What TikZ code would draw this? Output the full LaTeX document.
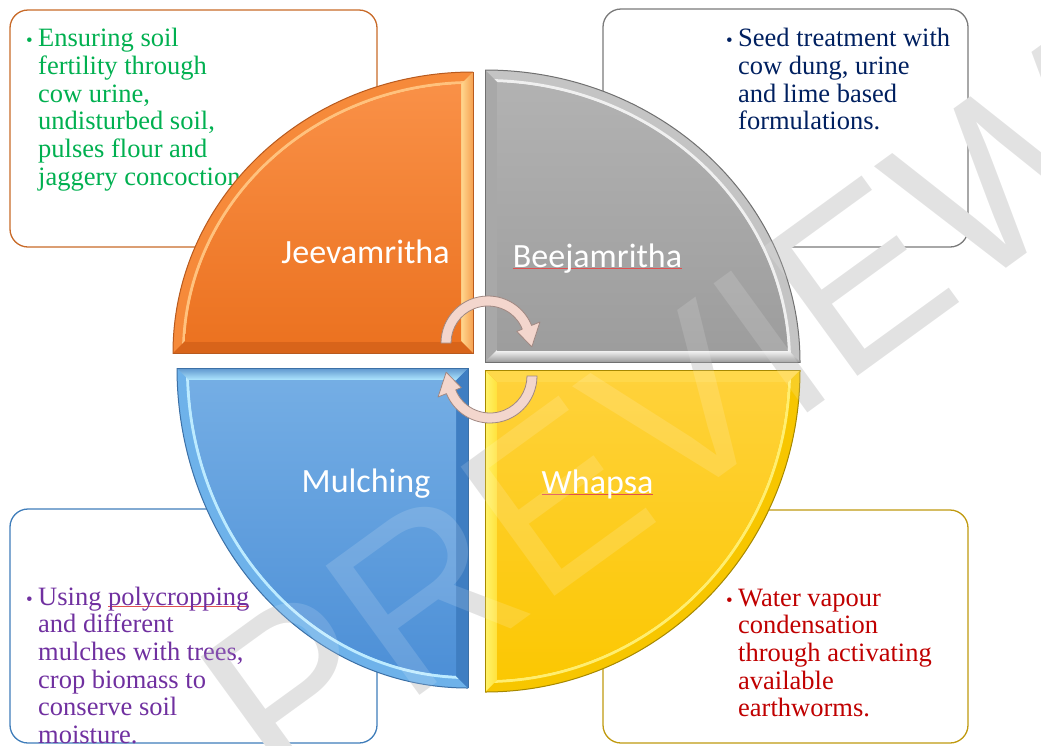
\documentclass[tikz,border=0pt]{standalone}
\usepackage{fontspec}
\setmainfont{Liberation Serif}
\newfontfamily\labelfont{Carlito}
\newfontfamily\markfont{Liberation Sans}

% text colours
\definecolor{txtgreen}{HTML}{00B050}
\definecolor{txtnavy}{HTML}{002060}
\definecolor{txtpurple}{HTML}{7030A0}
\definecolor{txtred}{HTML}{C00000}
\definecolor{spellred}{HTML}{E05050}
% box borders
\definecolor{brdOrange}{HTML}{C86A28}
\definecolor{brdGray}{HTML}{7A7A7A}
\definecolor{brdBlue}{HTML}{3F7DBA}
\definecolor{brdGold}{HTML}{C09A10}
% orange quadrant
\definecolor{orFaceTop}{HTML}{FA9249}
\definecolor{orFaceBot}{HTML}{EB711F}
\definecolor{orArc}{HTML}{F68A3A}
\definecolor{orHl}{HTML}{FFC27E}
\definecolor{orVL}{HTML}{FFD890}
\definecolor{orVR}{HTML}{F6A050}
\definecolor{orH}{HTML}{D8641A}
\definecolor{orEdge}{HTML}{B85A1E}
% gray quadrant
\definecolor{grFaceTop}{HTML}{B3B3B3}
\definecolor{grFaceBot}{HTML}{9C9C9C}
\definecolor{grArc}{HTML}{C4C4C4}
\definecolor{grHl}{HTML}{F0F0F0}
\definecolor{grV}{HTML}{A8A8A8}
\definecolor{grHTop}{HTML}{F8F8F8}
\definecolor{grHBot}{HTML}{9A9A9A}
\definecolor{grEdge}{HTML}{707070}
% blue quadrant
\definecolor{blFaceTop}{HTML}{76AFE5}
\definecolor{blFaceBot}{HTML}{4B8ED6}
\definecolor{blArc}{HTML}{6EB2EA}
\definecolor{blHl}{HTML}{BDEBFF}
\definecolor{blV}{HTML}{3F7EC2}
\definecolor{blHTop}{HTML}{5E96CE}
\definecolor{blHBot}{HTML}{B0E8FF}
\definecolor{blEdge}{HTML}{3C70A6}
% yellow quadrant
\definecolor{yeFaceTop}{HTML}{FFD23C}
\definecolor{yeFaceBot}{HTML}{FBC700}
\definecolor{yeArc}{HTML}{F7C600}
\definecolor{yeHl}{HTML}{FFEE70}
\definecolor{yeVL}{HTML}{FFF36B}
\definecolor{yeVR}{HTML}{FFE23C}
\definecolor{yeH}{HTML}{FFD84A}
\definecolor{yeEdge}{HTML}{A68800}
% cycle arrows
\definecolor{arrFill}{HTML}{F3D6CD}
\definecolor{arrLine}{HTML}{A08882}

% word with a thin red spell-check underline
\newsavebox\spellbox
\newcommand\spellmark[1]{\sbox\spellbox{#1}\rlap{\textcolor{spellred}{\rule[-1.6pt]{\wd\spellbox}{0.8pt}}}\usebox\spellbox}

% bevel width of the quadrant tiles
\def\bev{12}

% #1,#2 right-angle corner, #3,#4 radii, #5,#6 direction signs, #7 style prefix
\newcommand\quadrant[7]{%
\begin{scope}
  \clip (#1,#2) rectangle ({#1+#5*(#3+4)},{#2+#6*(#4+4)});
  \path[#7-arc] (#1,#2) ellipse[x radius=#3, y radius=#4];
  \draw[#7-hl] (#1,#2) ellipse[x radius={#3-\bev+1.5}, y radius={#4-\bev+1.5}];
  \path[#7-vstrip] (#1,#2) -- (#1,{#2+#6*#4}) -- ({#1+#5*\bev},{#2+#6*(#4-\bev)})
        -- ({#1+#5*\bev},{#2+#6*\bev}) -- cycle;
  \path[#7-hstrip] (#1,#2) -- ({#1+#5*#3},#2) -- ({#1+#5*(#3-\bev)},{#2+#6*\bev})
        -- ({#1+#5*\bev},{#2+#6*\bev}) -- cycle;
  \begin{scope}
    \clip ({#1+#5*\bev},{#2+#6*\bev}) rectangle ({#1+#5*(#3+4)},{#2+#6*(#4+4)});
    \clip (#1,#2) ellipse[x radius={#3-\bev}, y radius={#4-\bev}];
    \path[#7-face] (#1,#2) rectangle ({#1+#5*#3},{#2+#6*#4});
  \end{scope}
  \draw[#7-edge] (#1,#2) ellipse[x radius=#3, y radius=#4];
\end{scope}
\draw[#7-edge] ({#1+#5*#3},#2) -- (#1,#2) -- (#1,{#2+#6*#4});
}

\tikzset{
  infobox/.style={rectangle, rounded corners=18pt, line width=1.3pt, fill=white, inner sep=0pt},
  % anchored at the baseline of the last line
  boxtext/.style={anchor=base west, align=left, inner sep=0pt,
                  font=\fontsize{26.5}{27.7}\selectfont},
  bulletmark/.style={anchor=base west, inner sep=0pt, font=\fontsize{19}{19}\selectfont},
  tilelabel/.style={anchor=base, inner sep=0pt, text=white,
                    font=\labelfont\fontsize{34}{34}\selectfont},
  watermark/.style={inner sep=0pt, text=black!13, rotate=36,
                    font=\markfont\fontsize{232}{232}\selectfont},
  cyclearrow/.style={fill=arrFill, draw=arrLine, line width=0.8pt, line join=round},
  % orange tile
  or-arc/.style={fill=orArc}, or-hl/.style={draw=orHl, line width=3pt},
  or-vstrip/.style={left color=orVL, right color=orVR}, or-hstrip/.style={fill=orH},
  or-face/.style={top color=orFaceTop, bottom color=orFaceBot},
  or-edge/.style={draw=orEdge, line width=1pt},
  % gray tile
  gr-arc/.style={fill=grArc}, gr-hl/.style={draw=grHl, line width=3pt},
  gr-vstrip/.style={fill=grV}, gr-hstrip/.style={top color=grHTop, bottom color=grHBot},
  gr-face/.style={top color=grFaceTop, bottom color=grFaceBot},
  gr-edge/.style={draw=grEdge, line width=1pt},
  % blue tile
  bl-arc/.style={fill=blArc}, bl-hl/.style={draw=blHl, line width=3pt},
  bl-vstrip/.style={fill=blV}, bl-hstrip/.style={top color=blHTop, bottom color=blHBot},
  bl-face/.style={top color=blFaceTop, bottom color=blFaceBot},
  bl-edge/.style={draw=blEdge, line width=1pt},
  % yellow tile
  ye-arc/.style={fill=yeArc}, ye-hl/.style={draw=yeHl, line width=3pt},
  ye-vstrip/.style={left color=yeVL, right color=yeVR}, ye-hstrip/.style={fill=yeH},
  ye-face/.style={top color=yeFaceTop, bottom color=yeFaceBot},
  ye-edge/.style={draw=yeEdge, line width=1pt},
}

\begin{document}
\begin{tikzpicture}[x=1pt, y=-1pt]
\useasboundingbox (0,0) rectangle (1041,745);

% description boxes
\node[infobox, draw=brdOrange, minimum width=367pt, minimum height=237pt] (boxTL) at (193.5,128.5) {};
\node[infobox, draw=brdGray,   minimum width=365pt, minimum height=238pt] (boxTR) at (785.5,128) {};
\node[infobox, draw=brdBlue,   minimum width=367pt, minimum height=234pt] (boxBL) at (193.5,626) {};
\node[infobox, draw=brdGold,   minimum width=365pt, minimum height=233pt] (boxBR) at (785.5,626.5) {};

% watermark
\node[watermark] (wm) at (665,418) {PREVIEW};

% box texts
\node[bulletmark, text=txtgreen] (bTL) at (26,46.7) {•};
\node[boxtext, text=txtgreen] (tTL) at (38,185.2)
  {Ensuring soil\\fertility through\\cow urine,\\undisturbed soil,\\pulses flour and\\jaggery concoction};
\node[bulletmark, text=txtnavy] (bTR) at (726,46.7) {•};
\node[boxtext, text=txtnavy] (tTR) at (738,129.8)
  {Seed treatment with\\cow dung, urine\\and lime based\\formulations.};
\node[bulletmark, text=txtpurple] (bBL) at (26,605) {•};
\node[boxtext, text=txtpurple] (tBL) at (38,743.5)
  {Using \spellmark{polycropping}\\and different\\mulches with trees,\\crop biomass to\\conserve soil\\moisture.};
\node[bulletmark, text=txtred] (bBR) at (726,606) {•};
\node[boxtext, text=txtred] (tBR) at (738,716.8)
  {Water vapour\\condensation\\through activating\\available\\earthworms.};

% the four quadrant tiles
\quadrant{473}{353}{300}{281}{-1}{-1}{or}
\quadrant{485}{362}{315}{292}{1}{-1}{gr}
\quadrant{468}{368}{291}{320}{-1}{1}{bl}
\quadrant{485}{370}{315}{322}{1}{1}{ye}

% tile labels
\node[tilelabel] (lJ) at (365.5,263) {Jeevamritha};
\node[tilelabel] (lB) at (597.5,267) {\spellmark{Beejamritha}};
\node[tilelabel] (lM) at (366,492) {Mulching};
\node[tilelabel] (lW) at (597.5,493) {\spellmark{Whapsa}};

% watermark seen faintly through the tiles
\node[watermark, text=white, text opacity=0.14] (wm2) at (665,418) {PREVIEW};

% circular arrows in the middle
\coordinate (ca) at (488,343);
\coordinate (cb) at (490,376);
\path[cyclearrow] ([shift={(180:47)}]ca) arc[start angle=180, end angle=338, radius=47]
  -- ([shift={(338:56)}]ca) -- ([shift={(365:44)}]ca) -- ([shift={(338:31)}]ca)
  -- ([shift={(338:37)}]ca) arc[start angle=338, end angle=180, radius=37] -- cycle;
\path[cyclearrow] ([shift={(0:47)}]cb) arc[start angle=0, end angle=158, radius=47]
  -- ([shift={(158:56)}]cb) -- ([shift={(185:44)}]cb) -- ([shift={(158:31)}]cb)
  -- ([shift={(158:37)}]cb) arc[start angle=158, end angle=0, radius=37] -- cycle;
\end{tikzpicture}
\end{document}
